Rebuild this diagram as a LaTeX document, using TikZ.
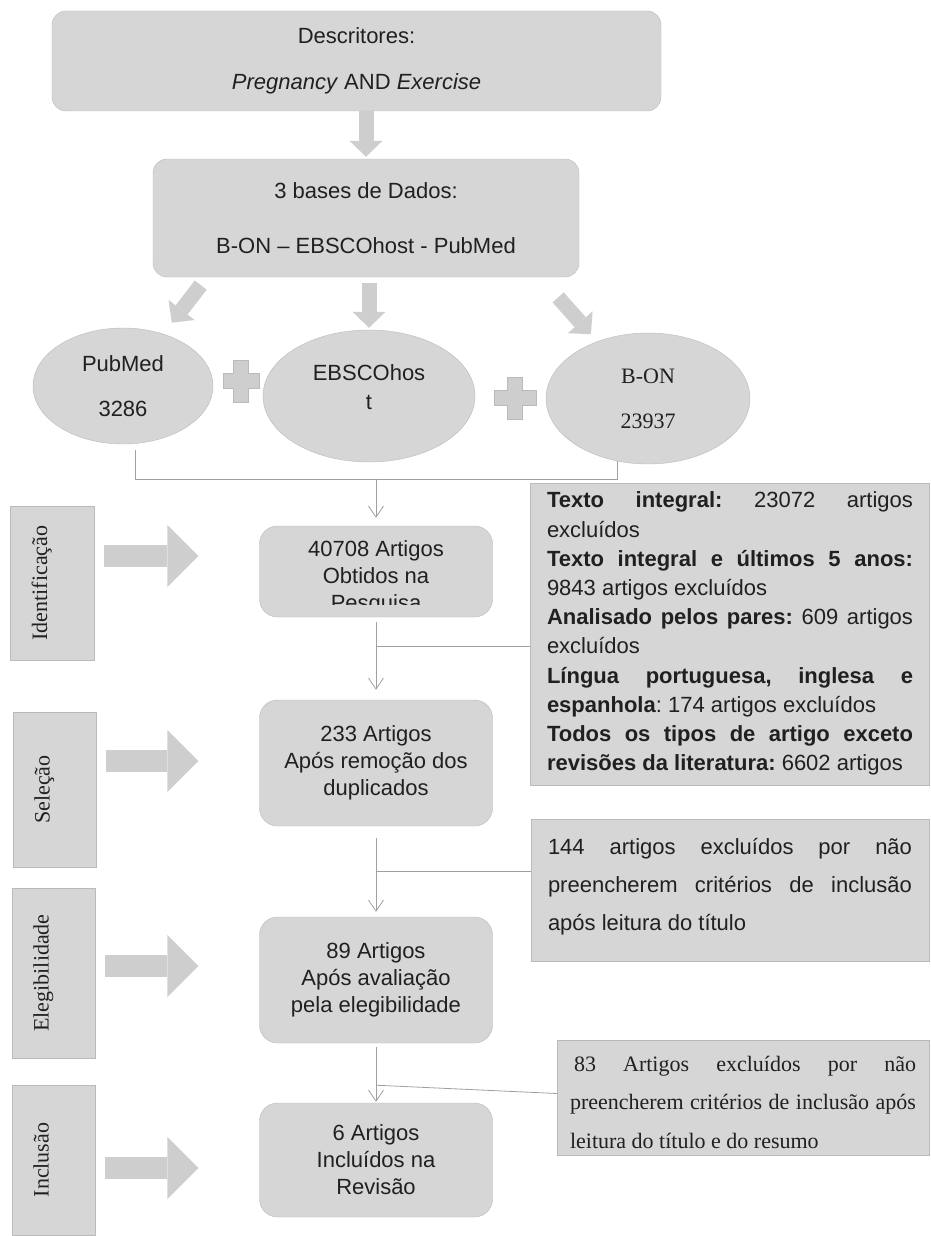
\documentclass[tikz,border=0pt]{standalone}
\usepackage{fontspec}
\setmainfont{Liberation Sans}
\newfontfamily\timesdb{Liberation Serif}
\usetikzlibrary{arrows.meta,shapes.geometric}
\definecolor{boxgray}{RGB}{214,214,214}
\definecolor{arrowgray}{RGB}{206,206,206}
\definecolor{edgegray}{RGB}{186,186,186}
\definecolor{linegray}{RGB}{160,160,160}
\definecolor{inkgray}{RGB}{32,32,32}
\hyphenpenalty=10000
\frenchspacing
\begin{document}
\begin{tikzpicture}[x=1pt,y=-1pt,
  txt/.style={text=inkgray,font=\fontsize{22}{27}\selectfont},
  roundbox/.style={txt,draw=edgegray,fill=boxgray,rounded corners=14pt,align=center},
  resbox/.style={txt,draw=edgegray,fill=boxgray,rounded corners=18pt,align=center,minimum width=233pt},
  dbnode/.style={txt,ellipse,draw=edgegray,fill=boxgray,align=center},
  stage/.style={draw=edgegray,fill=boxgray,rotate=90,text=inkgray,font=\timesdb\fontsize{22}{26}\selectfont,text height=15pt,text depth=25pt,minimum height=84pt},
  exclbox/.style={txt,draw=edgegray,fill=boxgray,align=justify,font=\fontsize{22}{38}\selectfont},
  thinlink/.style={draw=linegray,line width=0.8pt},
  linkarrow/.style={thinlink,-{Straight Barb[length=11pt,width=15pt]}},
  dbarrow/.style={draw=arrowgray,line width=15pt,-{Triangle[length=16pt,width=33pt,line width=0pt]}},
  sidearrow/.style={draw=arrowgray,line width=22pt,-{Triangle[length=31pt,width=62pt,line width=0pt]}},
  plussign/.style={draw=edgegray,fill=arrowgray,line width=0.6pt}]
\path[use as bounding box,fill=white] (0,0) rectangle (931,1236);
%%% search terms and the three databases
\node[roundbox,minimum width=609pt,minimum height=100pt,font=\fontsize{22}{46}\selectfont] (desc) at (356.5,61) {Descritores:\\\textit{Pregnancy} AND \textit{Exercise}};
\node[roundbox,minimum width=426pt,minimum height=118pt,font=\fontsize{22}{55}\selectfont] (bases) at (366,218) {3 bases de Dados:\\B-ON – EBSCOhost - PubMed};
\node[dbnode,minimum width=180pt,minimum height=116pt,font=\fontsize{22}{45}\selectfont] (pub) at (123,386) {PubMed\\3286};
\node[dbnode,minimum width=212pt,minimum height=132pt,font=\fontsize{22}{29}\selectfont,text depth=17pt] (ebsco) at (369,396) {EBSCOhos\\t};
\node[dbnode,minimum width=204pt,minimum height=131pt,font=\timesdb\fontsize{22}{45}\selectfont] (bon) at (648,398.5) {B-ON\\23937};
\draw[dbarrow,shorten >=2pt] (desc.south -| bases.north) -- (bases.north);
\draw[dbarrow,shorten <=10pt,shorten >=80pt] ([shift={(54,0)}]bases.south west) -- (pub.center);
\draw[dbarrow,shorten <=6pt,shorten >=2pt] (bases.south -| ebsco.north) -- (ebsco.north);
\draw[dbarrow,shorten <=27pt,shorten >=86pt] ([shift={(-39,0)}]bases.south east) -- (bon.center);
\draw[plussign] (241,381) ++(-7.5,-21) -- ++(15,0) -- ++(0,13.5) -- ++(10.5,0) -- ++(0,15) -- ++(-10.5,0) -- ++(0,13.5) -- ++(-15,0) -- ++(0,-13.5) -- ++(-10.5,0) -- ++(0,-15) -- ++(10.5,0) -- cycle;
\draw[plussign] (515,398) ++(-7.5,-21) -- ++(15,0) -- ++(0,13.5) -- ++(13.5,0) -- ++(0,15) -- ++(-13.5,0) -- ++(0,13.5) -- ++(-15,0) -- ++(0,-13.5) -- ++(-13.5,0) -- ++(0,-15) -- ++(13.5,0) -- cycle;
%%% stages on the left
\node[stage,minimum width=154pt] (lab1) at (52,583) {Identificação};
\node[stage,minimum width=155pt,minimum height=83pt] (lab2) at (54.5,789.5) {Seleção};
\node[stage,minimum width=170pt,minimum height=83pt] (lab3) at (53.5,973) {Elegibilidade};
\node[stage,minimum width=150pt,minimum height=83pt] (lab4) at (53.5,1160) {Inclusão};
%%% results of each stage
\node[resbox,minimum height=91pt] (res1) at (376,571.5) {};
\begin{scope}
\clip (res1.north west) rectangle ([shift={(0,-13)}]res1.south east);
\node[txt,align=center] (res1txt) at ([shift={(0,6.5)}]res1.center) {40708 Artigos\\Obtidos na\\Pesquisa};
\end{scope}
\node[resbox,minimum height=126pt] (res2) at (376,763) {233 Artigos\\Após remoção dos\\duplicados};
\node[resbox,minimum height=126pt] (res3) at (376,980) {89 Artigos\\Após avaliação\\pela elegibilidade};
\node[resbox,minimum height=114pt] (res4) at (376,1160) {6 Artigos\\Incluídos na\\Revisão};
% the rotated stage boxes have their south anchor on the right
\draw[sidearrow] ([shift={(10,-27)}]lab1.south) -- ([shift={(-61,-27)}]lab1.south -| res1.west);
\draw[sidearrow] ([shift={(10,-28.5)}]lab2.south) -- ([shift={(-61,-28.5)}]lab2.south -| res2.west);
\draw[sidearrow] ([shift={(10,-7)}]lab3.south) -- ([shift={(-61,-7)}]lab3.south -| res3.west);
\draw[sidearrow] ([shift={(10,8)}]lab4.south) -- ([shift={(-61,8)}]lab4.south -| res4.west);
%%% exclusions
\node[exclbox,minimum width=399pt,minimum height=302pt] (excl1) at (729.5,634) {};
\begin{scope}
\clip (excl1.north west) rectangle ([shift={(0,-7)}]excl1.south east);
\node[txt,align=justify,text width=366pt,inner sep=0pt,anchor=north west,font=\fontsize{22}{29.2}\selectfont] (excl1txt) at ([shift={(17,9)}]excl1.north west) {\textbf{Texto integral:} 23072 artigos\linebreak excluídos\\
\textbf{Texto integral e últimos 5 anos:}\linebreak 9843 artigos excluídos\\
\textbf{Analisado pelos pares:} 609 artigos\linebreak excluídos\\
\textbf{Língua portuguesa, inglesa e\linebreak espanhola}: 174 artigos excluídos\\
\textbf{Todos os tipos de artigo exceto\linebreak revisões da literatura:} 6602 artigos};
\end{scope}
\node[exclbox,text width=364pt,inner xsep=17pt,minimum height=142pt,text depth=88pt] (excl2) at (730,890) {144 artigos excluídos por não\linebreak preencherem critérios de inclusão\linebreak após leitura do título};
\node[exclbox,font=\timesdb\fontsize{22}{38.5}\selectfont,text width=346pt,inner xsep=13pt,minimum height=115pt,text depth=68pt] (excl3) at (743,1097.5) {\hspace*{4pt}83 Artigos excluídos por não\linebreak preencherem critérios de inclusão após\linebreak leitura do título e do resumo};
%%% thin connectors
\draw[thinlink] ([shift={(12,6)}]pub.south) |- ([shift={(-31,15)}]bon.south) -- ([shift={(-31,-3)}]bon.south);
\coordinate (merge) at (res1.north |- 0,478.5);
\draw[linkarrow,shorten >=8pt] (merge) -- (res1.north);
\draw[linkarrow,shorten <=5pt,shorten >=10pt] (res1) -- (res2);
\draw[linkarrow,shorten <=12pt,shorten >=5pt] (res2) -- (res3);
\draw[linkarrow,shorten <=4pt,shorten >=1pt] (res3) -- (res4);
\coordinate (cut1) at ([shift={(0,29)}]res1.south);
\coordinate (cut2) at ([shift={(0,45)}]res2.south);
\coordinate (cut3) at ([shift={(0,42)}]res3.south);
\draw[thinlink] (cut1) -- (cut1 -| excl1.west);
\draw[thinlink] (cut2) -- (cut2 -| excl2.west);
\draw[thinlink] (cut3) -- ([shift={(0,-4)}]excl3.west);
\end{tikzpicture}
\end{document}
